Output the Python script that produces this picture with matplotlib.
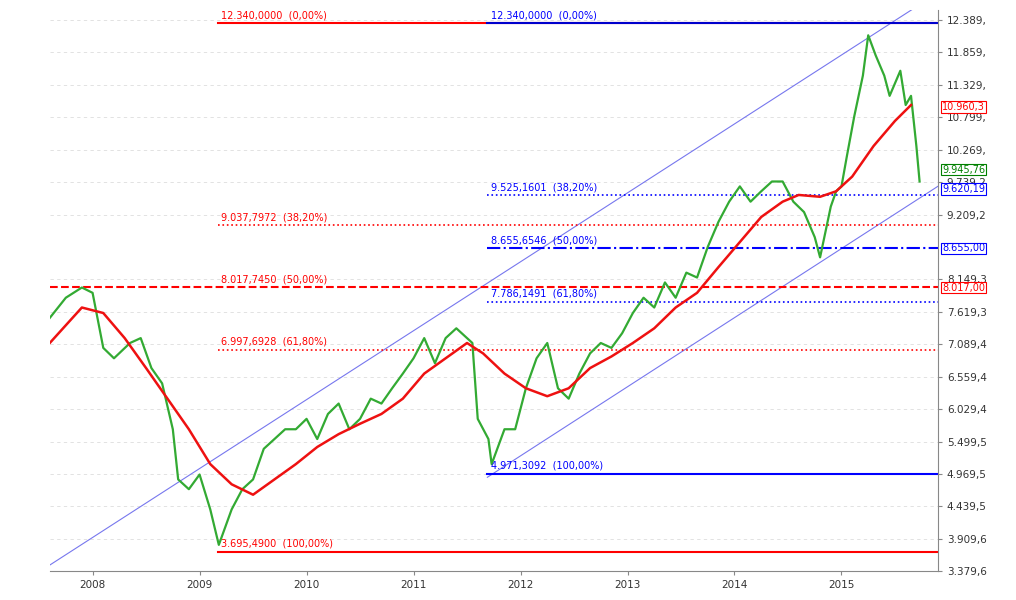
import matplotlib
matplotlib.use("Agg")
import matplotlib.pyplot as plt
import numpy as np

price_t = [2007.6,2007.75,2007.9,2008.0,2008.1,2008.2,2008.35,2008.45,2008.55,2008.65,2008.75,2008.8,2008.9,2009.0,2009.1,2009.18,
 2009.3,2009.4,2009.5,2009.6,2009.7,2009.8,2009.9,2010.0,2010.1,2010.2,2010.3,2010.4,2010.5,2010.6,2010.7,2010.8,2010.9,
 2011.0,2011.1,2011.2,2011.3,2011.4,2011.5,2011.55,2011.6,2011.7,2011.73,2011.85,2011.95,2012.05,2012.15,2012.25,2012.35,
 2012.45,2012.55,2012.65,2012.75,2012.85,2012.95,2013.05,2013.15,2013.25,2013.35,2013.45,2013.55,2013.65,2013.75,2013.85,
 2013.95,2014.05,2014.15,2014.25,2014.35,2014.45,2014.55,2014.65,2014.75,2014.8,2014.9,2014.95,2015.0,2015.05,2015.12,
 2015.2,2015.25,2015.32,2015.4,2015.45,2015.55,2015.6,2015.65,2015.7,2015.73]
price_v = [7520,7850,8017,7930,7030,6860,7110,7190,6700,6450,5700,4880,4720,4960,4390,3810,
 4390,4720,4880,5380,5540,5700,5700,5870,5540,5950,6120,5700,5870,6200,6120,6370,6610,
 6860,7190,6780,7190,7350,7190,7110,5870,5540,5130,5700,5700,6370,6860,7110,6370,
 6200,6610,6940,7110,7030,7270,7600,7850,7690,8100,7850,8260,8180,8680,9090,
 9420,9670,9420,9590,9750,9750,9420,9250,8840,8510,9340,9590,9670,10160,10820,
 11480,12140,11810,11480,11150,11560,11000,11150,10330,9750]

ma_t = [2007.6,2007.9,2008.1,2008.3,2008.5,2008.7,2008.9,2009.1,2009.3,2009.5,2009.7,2009.9,2010.1,2010.3,2010.5,2010.7,2010.9,
 2011.1,2011.3,2011.5,2011.65,2011.85,2012.05,2012.25,2012.45,2012.65,2012.85,2013.05,2013.25,2013.45,2013.65,2013.85,
 2014.05,2014.25,2014.45,2014.6,2014.8,2014.95,2015.1,2015.3,2015.5,2015.65]
ma_v = [7110,7690,7600,7190,6700,6200,5700,5130,4800,4630,4880,5130,5410,5620,5790,5950,6200,
 6610,6860,7110,6940,6610,6370,6240,6370,6700,6890,7110,7350,7690,7930,8350,
 8760,9170,9420,9530,9500,9590,9830,10330,10740,11000]

red_fib_levels = [12340.0, 9037.7972, 8017.7450, 6997.6928, 3695.49]
red_fib_labels = ["12.340,0000  (0,00%)", "9.037,7972  (38,20%)", "8.017,7450  (50,00%)", "6.997,6928  (61,80%)", "3.695,4900  (100,00%)"]
red_fib_start = 2009.17
blue_fib_levels = [12340.0, 9525.1601, 8655.6546, 7786.1491, 4971.3092]
blue_fib_labels = ["12.340,0000  (0,00%)", "9.525,1601  (38,20%)", "8.655,6546  (50,00%)", "7.786,1491  (61,80%)", "4.971,3092  (100,00%)"]
blue_fib_start = 2011.69

upper_channel_t = [2007.6, 2015.73]; upper_channel_v = [3480, 12640]
lower_channel_t = [2011.69, 2015.9]; lower_channel_v = [4915, 9670]

yticks = [12389,11859,11329,10799,10269,9739.2,9209.2,8149.3,7619.3,7089.4,6559.4,6029.4,5499.5,4969.5,4439.5,3909.6,3379.6]
ytick_labels = ["12.389,","11.859,","11.329,","10.799,","10.269,","9.739,2","9.209,2","8.149,3","7.619,3","7.089,4","6.559,4","6.029,4","5.499,5","4.969,5","4.439,5","3.909,6","3.379,6"]
xticks = [2008,2009,2010,2011,2012,2013,2014,2015]

right_labels = [(10960.3,"10.960,3","red"),(9945.76,"9.945,76","green"),(9620.19,"9.620,19","blue"),(8655.0,"8.655,00","blue"),(8017.0,"8.017,00","red")]

fig = plt.figure(figsize=(10.16,6.0), dpi=100)
ax = fig.add_axes([0.049,0.048,0.874,0.935])
ax.set_xlim(2007.6, 2015.9)
ax.set_ylim(3379.6, 12550)
for y in yticks:
    ax.axhline(y, color="#dddddd", lw=0.6, ls=(0,(4,4)), zorder=0)

ax.plot(upper_channel_t, upper_channel_v, color="#7777ee", lw=0.8)
ax.plot(lower_channel_t, lower_channel_v, color="#7777ee", lw=0.8)

red_styles = ["-", ":", "--", ":", "-"]
for lv, lb, st in zip(red_fib_levels, red_fib_labels, red_styles):
    x0 = 2007.6 if st == "--" else red_fib_start
    ax.plot([x0, 2015.9], [lv, lv], color="red", ls=st, lw=1.5 if st != ":" else 1.2)
    ax.text(red_fib_start + 0.03, lv + 80, lb, color="red", fontsize=7)
blue_styles = ["-", ":", "-.", ":", "-"]
for lv, lb, st in zip(blue_fib_levels, blue_fib_labels, blue_styles):
    ax.plot([blue_fib_start, 2015.9], [lv, lv], color="#0000cc" if st == "-" and lv > 12000 else "blue", ls=st, lw=1.5 if st != ":" else 1.2)
    ax.text(blue_fib_start + 0.03, lv + 80, lb, color="blue", fontsize=7)

ax.plot(price_t, price_v, color="#33aa33", lw=1.6)
ax.plot(ma_t, ma_v, color="#ee1111", lw=1.8)

ax.yaxis.tick_right()
ax.set_yticks(yticks)
ax.set_yticklabels(ytick_labels, fontsize=7.5, color="#333333")
ax.set_xticks(xticks)
ax.set_xticklabels([str(x) for x in xticks], fontsize=7.5, color="#333333")
ax.tick_params(length=3, color="#888888")
for s in ["top", "left"]:
    ax.spines[s].set_visible(False)
for s in ["right", "bottom"]:
    ax.spines[s].set_color("#888888")

for v, t, c in right_labels:
    ax.annotate(t, xy=(1.0, v), xycoords=("axes fraction", "data"), xytext=(3, 0), textcoords="offset points",
                fontsize=7, color=c, va="center", ha="left",
                bbox=dict(boxstyle="square,pad=0.1", fc="white", ec=c, lw=0.8))

fig.savefig("out.png", dpi=100)
